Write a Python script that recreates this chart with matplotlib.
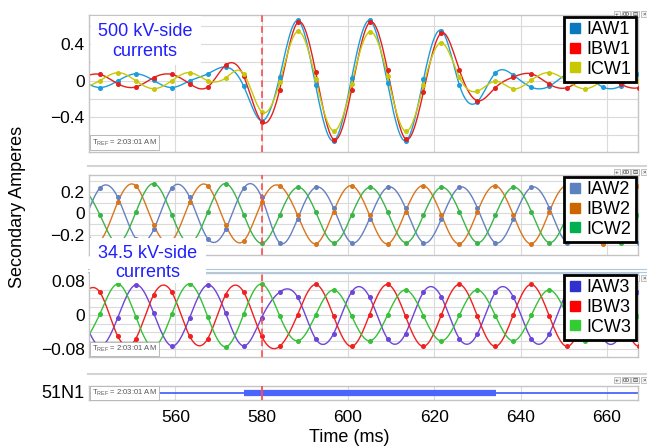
import numpy as np
import matplotlib
matplotlib.use('Agg')
import matplotlib.pyplot as plt
from matplotlib.lines import Line2D
from matplotlib.patches import Rectangle

plt.rcParams['font.family'] = ['Liberation Sans', 'DejaVu Sans']
plt.rcParams['mathtext.fontset'] = 'custom'
plt.rcParams['mathtext.rm'] = 'Liberation Sans'

# relay samples, 4 per cycle (60 Hz), k = -10 .. 22 around t = 580 ms
t_samp = 580 + np.arange(-10, 23) * 1000 / 240.0

# 500 kV side
iaw1 = [0.002, -0.075, -0.002, 0.075, 0.002, -0.075, -0.002, 0.075, 0.15, -0.06, -0.44,
        0.04, 0.66, -0.05, -0.66, 0.025, 0.66, -0.03, -0.66, 0.015, 0.55, -0.05, -0.23,
        0.085, 0.06, -0.072, -0.06, 0.075, 0.055, -0.072, -0.055, 0.072, 0.052]
ibw1 = [0.034, 0.069, -0.034, -0.069, 0.034, 0.069, -0.034, -0.069, 0.17, 0.05, -0.45,
        -0.10, 0.64, 0.10, -0.645, -0.10, 0.64, 0.115, -0.64, -0.12, 0.525, 0.115, -0.22,
        -0.075, 0.04, 0.075, -0.04, -0.075, 0.04, 0.075, -0.04, -0.075, 0.04]
icw1 = [-0.088, 0.0, 0.088, 0.0, -0.088, 0.0, 0.088, 0.0, 0.03, 0.075, -0.34,
        -0.02, 0.54, 0.02, -0.55, -0.04, 0.535, 0.05, -0.555, -0.05, 0.415, 0.035, -0.115,
        -0.006, -0.088, 0.006, 0.088, -0.006, -0.088, 0.006, 0.088, -0.006, -0.088]

# 34.5 kV side, winding 2
iaw2 = [-0.150, 0.236, 0.150, -0.236, -0.150, 0.236, 0.150, -0.236, -0.150, 0.236, 0.150,
        -0.275, -0.050, 0.245, 0.050, -0.275, -0.050, 0.245, 0.050, -0.275, -0.050, 0.245,
        0.050, -0.275, -0.050, 0.245, 0.050, -0.275, -0.050, 0.245, 0.050, -0.275, -0.050]
ibw2 = [-0.106, -0.259, 0.106, 0.259, -0.106, -0.259, 0.106, 0.259, -0.106, -0.259, 0.106,
        0.260, -0.017, -0.285, 0.017, 0.260, -0.017, -0.285, 0.017, 0.260, -0.017, -0.285,
        0.017, 0.260, -0.017, -0.285, 0.017, 0.260, -0.017, -0.285, 0.017, 0.260, -0.017]
icw2 = [0.280, -0.011, -0.280, 0.011, 0.280, -0.011, -0.280, 0.011, 0.280, -0.011, -0.280,
        -0.016, 0.245, 0.016, -0.275, -0.016, 0.245, 0.016, -0.275, -0.016, 0.245, 0.016,
        -0.275, -0.016, 0.245, 0.016, -0.275, -0.016, 0.245, 0.016, -0.275, -0.016, 0.245]

# 34.5 kV side, winding 3
iaw3 = [0.005, -0.072, -0.005, 0.072, 0.005, -0.072, -0.005, 0.072, 0.005, -0.072, -0.005,
        0.055, 0.043, -0.055, -0.043, 0.055, 0.043, -0.055, -0.043, 0.055, 0.043, -0.055,
        -0.043, 0.055, 0.043, -0.055, -0.043, 0.055, 0.043, -0.055, -0.043, 0.055, 0.043]
ibw3 = [0.049, 0.055, -0.049, -0.055, 0.049, 0.055, -0.049, -0.055, 0.049, 0.055, -0.049,
        -0.073, 0.002, 0.073, -0.002, -0.073, 0.002, 0.073, -0.002, -0.073, 0.002, 0.073,
        -0.002, -0.073, 0.002, 0.073, -0.002, -0.073, 0.002, 0.073, -0.002, -0.073, 0.002]
icw3 = [-0.074, 0.003, 0.074, -0.003, -0.074, 0.003, 0.074, -0.003, -0.074, 0.003, 0.074,
        -0.001, -0.060, 0.001, 0.060, -0.001, -0.060, 0.001, 0.060, -0.001, -0.060, 0.001,
        0.060, -0.001, -0.060, 0.001, 0.060, -0.001, -0.060, 0.001, 0.060, -0.001, -0.060]

# 51N1 element asserted (ms)
n51_on = [575.8, 634.2]

x_ticks = [560, 580, 600, 620, 640, 660]
t_fault = 580

W, H = 647, 446


def smooth(x, y, per=12):
    # natural cubic spline, only to draw the trace between samples
    x = np.asarray(x, float)
    y = np.asarray(y, float)
    n = len(x)
    h = np.diff(x)
    A = np.zeros((n, n))
    r = np.zeros(n)
    A[0, 0] = A[-1, -1] = 1.0
    for i in range(1, n - 1):
        A[i, i - 1] = h[i - 1]
        A[i, i] = 2 * (h[i - 1] + h[i])
        A[i, i + 1] = h[i]
        r[i] = 6 * ((y[i + 1] - y[i]) / h[i] - (y[i] - y[i - 1]) / h[i - 1])
    m = np.linalg.solve(A, r)
    xs = np.linspace(x[0], x[-1], (n - 1) * per + 1)
    j = np.clip(np.searchsorted(x, xs) - 1, 0, n - 2)
    a = x[j + 1] - xs
    b = xs - x[j]
    hj = h[j]
    ys = (m[j] * a ** 3 + m[j + 1] * b ** 3) / (6 * hj) \
        + (y[j] / hj - m[j] * hj / 6) * a + (y[j + 1] / hj - m[j + 1] * hj / 6) * b
    return xs, ys


def box(top, bottom, left=89, right=638):
    return [left / W, 1 - bottom / H, (right - left) / W, (bottom - top) / H]


fig = plt.figure(figsize=(6.47, 4.46), dpi=100)
ax1 = fig.add_axes(box(15, 152))
ax2 = fig.add_axes(box(175, 255))
ax3 = fig.add_axes(box(273, 357))
ax4 = fig.add_axes(box(386, 400))


def frame(ax):
    ax.set_xlim(540, 667.2)
    ax.set_xticks(x_ticks)
    for s in ax.spines.values():
        s.set_color('#c4c4c4')
        s.set_linewidth(1.0)
    ax.tick_params(length=0, labelsize=12.5, pad=3)
    ax.grid(True, color='#dadada', lw=0.8, zorder=0)
    ax.set_axisbelow(True)


def tref(ax, y, va):
    ax.text(0.006, y, r'T$_{\mathrm{REF}}$ = 2:03:01 AM', transform=ax.transAxes,
            fontsize=5.5, color='#555555', va=va, ha='left', zorder=6,
            bbox=dict(boxstyle='square,pad=0.25', fc='white', ec='#b0b0b0', lw=0.6))


def buttons(ax, ypx):
    for i, s in enumerate(['+', '00', '\u229f', '\u00d7']):
        ax.text((617 + i * 9) / W, 1 - ypx / H, s, transform=fig.transFigure,
                fontsize=4.5, ha='center', va='center', color='#333333',
                bbox=dict(boxstyle='square,pad=0.15', fc='#f4f4f4', ec='#aaaaaa', lw=0.5),
                clip_on=False, zorder=4)


def panel(ax, series, colors, names, leg_colors, ylim, grid_y, labels, ypx_btn):
    frame(ax)
    for vals, c in zip(series, colors):
        xs, ys = smooth(t_samp, vals)
        ax.plot(xs, ys, color=c, lw=1.0, zorder=2)
        ax.plot(t_samp, vals, 'o', color=c, ms=2.6, zorder=3)
    ax.set_ylim(*ylim)
    ax.set_yticks(grid_y)
    ax.set_yticklabels(labels)
    ax.set_xticklabels([])
    ax.axvline(t_fault, color='#ff4d4d', lw=1.2, ls=(0, (4, 2.5)), zorder=4)
    handles = [Line2D([], [], marker='s', ls='none', ms=7.5, color=c) for c in leg_colors]
    leg = ax.legend(handles, names, loc='upper right', fontsize=13, frameon=True,
                    fancybox=False, edgecolor='black', framealpha=1,
                    borderaxespad=0.1, borderpad=0.25, labelspacing=0.15,
                    handlelength=0.7, handletextpad=0.3)
    leg.get_frame().set_linewidth(2)
    leg.set_zorder(5)
    buttons(ax, ypx_btn)


panel(ax1, [iaw1, ibw1, icw1], ['#1c9ddb', '#e2201e', '#c8c80a'],
      ['IAW1', 'IBW1', 'ICW1'], ['#0a78c0', '#ff0000', '#c8c800'],
      (-0.782, 0.72), [-0.6, -0.4, -0.2, 0, 0.2, 0.4, 0.6],
      ['', '\u22120.4', '', '0', '', '0.4', ''], 14)
panel(ax2, [iaw2, ibw2, icw2], ['#6680c0', '#d8761e', '#3cb44b'],
      ['IAW2', 'IBW2', 'ICW2'], ['#5b82bf', '#cc6600', '#00b050'],
      (-0.39, 0.36), [-0.3, -0.2, -0.1, 0, 0.1, 0.2, 0.3],
      ['', '\u22120.2', '', '0', '', '0.2', ''], 172)
panel(ax3, [iaw3, ibw3, icw3], ['#6d45d8', '#f02020', '#38c038'],
      ['IAW3', 'IBW3', 'ICW3'], ['#3030d0', '#ff0000', '#33cc33'],
      (-0.098, 0.1), [-0.08, -0.06, -0.04, -0.02, 0, 0.02, 0.04, 0.06, 0.08],
      ['\u22120.08', '', '', '', '0', '', '', '', '0.08'], 278)

tref(ax1, 0.03, 'bottom')
tref(ax3, 0.03, 'bottom')

# 51N1 digital trace
frame(ax4)
ax4.set_ylim(-1, 1)
ax4.set_yticks([])
ax4.plot([540, 667.2], [0, 0], color='#4a64ff', lw=1.3, zorder=2)
ax4.plot(n51_on, [0, 0], color='#4a64ff', lw=4.5, solid_capstyle='butt', zorder=3)
ax4.axvline(t_fault, color='#ff4d4d', lw=1.3, zorder=4)
ax4.tick_params(axis='x', pad=7)
tref(ax4, 0.5, 'center')
buttons(ax4, 380)

# splitter bars between panels
for y, c, w in [(166, '#d4d4d4', 1.5), (269.3, '#a9c8ea', 0.8), (271.8, '#a9c8ea', 0.8),
                (373.5, '#d4d4d4', 1.5)]:
    fig.add_artist(Line2D([88 / W, 1.0], [1 - y / H, 1 - y / H], color=c, lw=w))

# annotation boxes
fig.add_artist(Rectangle((90.5 / W, 1 - 65 / H), 110 / W, 49 / H, transform=fig.transFigure,
                         fc='white', ec='none', zorder=8))
fig.text(145 / W, 1 - 41.5 / H, '500 kV-side\ncurrents', fontsize=13, color='#1f1fff',
         ha='center', va='center', linespacing=1.2, zorder=9)
fig.add_artist(Rectangle((89.5 / W, 1 - 283 / H), 116 / W, 45 / H, transform=fig.transFigure,
                         fc='white', ec='none', zorder=8))
fig.text(148 / W, 1 - 263 / H, '34.5 kV-side\ncurrents', fontsize=13, color='#1f1fff',
         ha='center', va='center', linespacing=1.2, zorder=9)

fig.text(18 / W, 1 - 207 / H, 'Secondary Amperes', rotation=90, fontsize=13,
         ha='center', va='center')
fig.text(84 / W, 1 - 393 / H, '51N1', fontsize=13, ha='right', va='center')
fig.text(349 / W, 1 - 437 / H, 'Time (ms)', fontsize=13, ha='center', va='center')

fig.savefig('out.png', dpi=100)
